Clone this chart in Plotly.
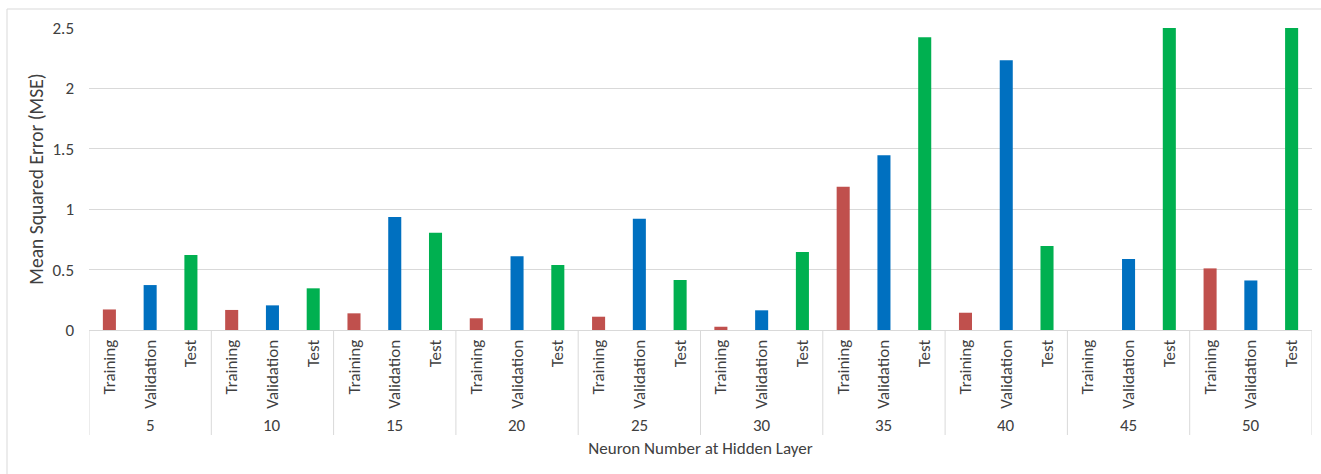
import plotly.graph_objects as go

# Mean squared error per data split for each hidden-layer size
neurons = ["5", "10", "15", "20", "25", "30", "35", "40", "45", "50"]
splits = ["Training", "Validation", "Test"]
training = [0.17, 0.166, 0.138, 0.097, 0.11, 0.027, 1.185, 0.143, 0.0, 0.51]
validation = [0.372, 0.204, 0.935, 0.61, 0.92, 0.163, 1.446, 2.232, 0.588, 0.41]
test = [0.62, 0.345, 0.806, 0.538, 0.414, 0.646, 2.423, 0.695, 2.5, 2.5]
split_colors = {"Training": "#C0504D", "Validation": "#0070C0", "Test": "#00B050"}
y_ticks = [0, 0.5, 1, 1.5, 2, 2.5]
y_tick_text = ["0", "0.5", "1", "1.5", "2", "2.5"]

# One category slot per (neuron count, split) pair
keys, inner, values, colors = [], [], [], []
for i, n in enumerate(neurons):
    for s, series in zip(splits, (training, validation, test)):
        keys.append(f"{n}|{s}")
        inner.append(s)
        values.append(series[i])
        colors.append(split_colors[s])

font_family = "Calibri, Carlito, Lato, 'Open Sans', sans-serif"
text_color = "#404040"
grid_color = "#D9D9D9"
fs = 17
plot_h = 302  # pixel height of the plotting area

fig = go.Figure(
    go.Bar(
        x=keys,
        y=values,
        marker=dict(color=colors, line=dict(width=0)),
        width=0.32,
        showlegend=False,
    )
)

n_split = len(splits)
shapes = [
    # outer chart frame
    dict(
        type="rect", xref="paper", yref="paper",
        x0=-82 / 1223, x1=1.02, y0=-0.6, y1=1 + 19 / plot_h,
        line=dict(color=grid_color, width=1), fillcolor="rgba(0,0,0,0)",
        layer="below",
    )
]
# group dividers below the axis line
for g in range(len(neurons) + 1):
    xpos = g * n_split - 0.5
    shapes.append(dict(
        type="line", xref="x", yref="paper",
        x0=xpos, x1=xpos, y0=0, y1=-105 / plot_h,
        line=dict(color=grid_color, width=1),
    ))

# neuron-count group labels
annotations = [
    dict(
        x=g * n_split + 1, y=-95 / plot_h, xref="x", yref="paper",
        text=n, showarrow=False, yanchor="middle",
        font=dict(size=fs, color=text_color, family=font_family),
    )
    for g, n in enumerate(neurons)
]

fig.update_layout(
    width=1321,
    height=474,
    margin=dict(l=89, r=9, t=28, b=144),
    paper_bgcolor="white",
    plot_bgcolor="white",
    font=dict(family=font_family, size=fs, color=text_color),
    shapes=shapes,
    annotations=annotations,
)

fig.update_xaxes(
    type="category",
    categoryorder="array",
    categoryarray=keys,
    tickvals=keys,
    ticktext=inner,
    tickangle=-90,
    range=[-0.5, len(keys) - 0.5],
    showline=True,
    linecolor=grid_color,
    linewidth=1,
    showgrid=False,
    ticks="",
    ticklabelstandoff=2,
    tickfont=dict(size=fs, color=text_color),
    title=dict(text="Neuron Number at Hidden Layer", font=dict(size=fs, color=text_color), standoff=34),
)

fig.update_yaxes(
    range=[0, 2.5],
    tickvals=y_ticks,
    ticktext=y_tick_text,
    showgrid=True,
    gridcolor=grid_color,
    gridwidth=1,
    zeroline=False,
    showline=False,
    ticks="",
    ticklabelstandoff=14,
    tickfont=dict(size=fs, color=text_color),
    title=dict(text="Mean Squared Error (MSE)", font=dict(size=19.5, color=text_color), standoff=3),
)

fig.write_html("out.html")
